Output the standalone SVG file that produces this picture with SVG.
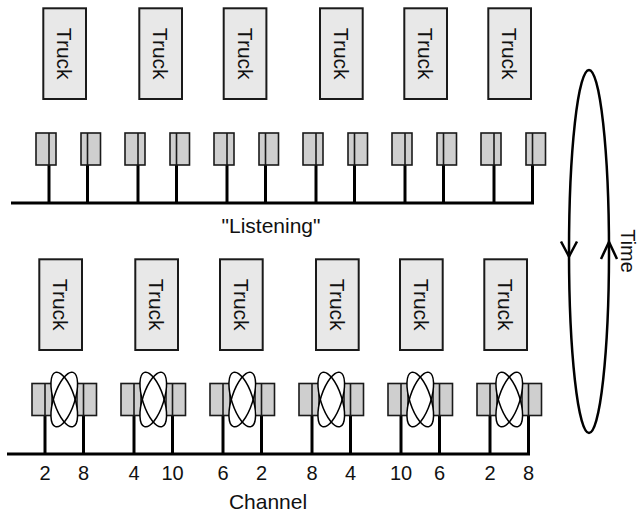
<svg xmlns="http://www.w3.org/2000/svg" width="642" height="512" viewBox="0 0 642 512">
<style>
.truck rect{fill:#e8e8e8;stroke:#1a1a1a;stroke-width:2}
.truck text{font-family:"Liberation Sans",Arial,sans-serif;font-size:21px;fill:#111;text-anchor:middle;dominant-baseline:central}
.ant rect{fill:#cfcfcf;stroke:#1a1a1a;stroke-width:1.6}
.ant line.div{stroke:#1a1a1a;stroke-width:1.6}
.pole{stroke:#000;stroke-width:3}
.bus{stroke:#000;stroke-width:3}
.loopfill{fill:#fff;stroke:none}
.loop{fill:none;stroke:#000;stroke-width:1.5}
.lbl{font-family:"Liberation Sans",Arial,sans-serif;font-size:20px;fill:#111;text-anchor:middle}
.cap{font-family:"Liberation Sans",Arial,sans-serif;font-size:21px;fill:#111;text-anchor:middle}
.cyc{fill:none;stroke:#000;stroke-width:2.5}
</style>
<defs>
<g id="loopshape">
<ellipse class="loopfill" cx="0" cy="0" rx="10.5" ry="28.5" transform="rotate(18)"/>
<ellipse class="loopfill" cx="0" cy="0" rx="10.5" ry="28.5" transform="rotate(-18)"/>
<ellipse class="loop" cx="0" cy="0" rx="10.5" ry="28.5" transform="rotate(18)"/>
<ellipse class="loop" cx="0" cy="0" rx="10.5" ry="28.5" transform="rotate(-18)"/>
</g>
</defs>

<!-- Top row trucks -->
<g id="truck-t1" class="truck"><rect x="43.3" y="8.3" width="42.7" height="90.7"/><text transform="translate(64.7,53.7) rotate(90)">Truck</text></g>
<g id="truck-t2" class="truck"><rect x="139.3" y="8.3" width="42.7" height="90.7"/><text transform="translate(160.7,53.7) rotate(90)">Truck</text></g>
<g id="truck-t3" class="truck"><rect x="223.7" y="8.3" width="42.7" height="90.7"/><text transform="translate(245,53.7) rotate(90)">Truck</text></g>
<g id="truck-t4" class="truck"><rect x="320" y="8.3" width="42.7" height="90.7"/><text transform="translate(341.4,53.7) rotate(90)">Truck</text></g>
<g id="truck-t5" class="truck"><rect x="404.3" y="8.3" width="42.7" height="90.7"/><text transform="translate(425.7,53.7) rotate(90)">Truck</text></g>
<g id="truck-t6" class="truck"><rect x="488.3" y="8.3" width="42.7" height="90.7"/><text transform="translate(509.7,53.7) rotate(90)">Truck</text></g>

<!-- Bottom row trucks -->
<g id="truck-b1" class="truck"><rect x="39.3" y="259.3" width="42.7" height="90.7"/><text transform="translate(60.7,304.7) rotate(90)">Truck</text></g>
<g id="truck-b2" class="truck"><rect x="135.3" y="259.3" width="42.7" height="90.7"/><text transform="translate(156.7,304.7) rotate(90)">Truck</text></g>
<g id="truck-b3" class="truck"><rect x="220" y="259.3" width="42.7" height="90.7"/><text transform="translate(241.4,304.7) rotate(90)">Truck</text></g>
<g id="truck-b4" class="truck"><rect x="316" y="259.3" width="42.7" height="90.7"/><text transform="translate(337.4,304.7) rotate(90)">Truck</text></g>
<g id="truck-b5" class="truck"><rect x="400" y="259.3" width="42.7" height="90.7"/><text transform="translate(421.4,304.7) rotate(90)">Truck</text></g>
<g id="truck-b6" class="truck"><rect x="484.3" y="259.3" width="42.7" height="90.7"/><text transform="translate(505.7,304.7) rotate(90)">Truck</text></g>

<!-- Connectors: buses and poles -->
<g id="connectors">
<line class="bus" x1="11" y1="203" x2="534" y2="203"/>
<line class="pole" x1="49" y1="165" x2="49" y2="203"/><line class="pole" x1="87.5" y1="165" x2="87.5" y2="203"/>
<line class="pole" x1="138" y1="165" x2="138" y2="203"/><line class="pole" x1="176.5" y1="165" x2="176.5" y2="203"/>
<line class="pole" x1="227" y1="165" x2="227" y2="203"/><line class="pole" x1="265.5" y1="165" x2="265.5" y2="203"/>
<line class="pole" x1="316" y1="165" x2="316" y2="203"/><line class="pole" x1="354.5" y1="165" x2="354.5" y2="203"/>
<line class="pole" x1="405" y1="165" x2="405" y2="203"/><line class="pole" x1="443.5" y1="165" x2="443.5" y2="203"/>
<line class="pole" x1="494" y1="165" x2="494" y2="203"/><line class="pole" x1="532.5" y1="165" x2="532.5" y2="203"/>

<line class="bus" x1="7" y1="454" x2="530" y2="454"/>
<line class="pole" x1="45" y1="415.5" x2="45" y2="454"/><line class="pole" x1="83.5" y1="415.5" x2="83.5" y2="454"/>
<line class="pole" x1="134" y1="415.5" x2="134" y2="454"/><line class="pole" x1="172.5" y1="415.5" x2="172.5" y2="454"/>
<line class="pole" x1="223" y1="415.5" x2="223" y2="454"/><line class="pole" x1="261.5" y1="415.5" x2="261.5" y2="454"/>
<line class="pole" x1="312" y1="415.5" x2="312" y2="454"/><line class="pole" x1="350.5" y1="415.5" x2="350.5" y2="454"/>
<line class="pole" x1="401" y1="415.5" x2="401" y2="454"/><line class="pole" x1="439.5" y1="415.5" x2="439.5" y2="454"/>
<line class="pole" x1="490" y1="415.5" x2="490" y2="454"/><line class="pole" x1="528.5" y1="415.5" x2="528.5" y2="454"/>
</g>

<!-- Top antennas -->
<g id="ant-top" class="ant">
<rect x="36" y="133" width="20" height="32"/><line class="div" x1="49" y1="133" x2="49" y2="165"/>
<rect x="81" y="133" width="19.5" height="32"/><line class="div" x1="87.5" y1="133" x2="87.5" y2="165"/>
<rect x="125" y="133" width="20" height="32"/><line class="div" x1="138" y1="133" x2="138" y2="165"/>
<rect x="170" y="133" width="19.5" height="32"/><line class="div" x1="176.5" y1="133" x2="176.5" y2="165"/>
<rect x="214" y="133" width="20" height="32"/><line class="div" x1="227" y1="133" x2="227" y2="165"/>
<rect x="259" y="133" width="19.5" height="32"/><line class="div" x1="265.5" y1="133" x2="265.5" y2="165"/>
<rect x="303" y="133" width="20" height="32"/><line class="div" x1="316" y1="133" x2="316" y2="165"/>
<rect x="348" y="133" width="19.5" height="32"/><line class="div" x1="354.5" y1="133" x2="354.5" y2="165"/>
<rect x="392" y="133" width="20" height="32"/><line class="div" x1="405" y1="133" x2="405" y2="165"/>
<rect x="437" y="133" width="19.5" height="32"/><line class="div" x1="443.5" y1="133" x2="443.5" y2="165"/>
<rect x="481" y="133" width="20" height="32"/><line class="div" x1="494" y1="133" x2="494" y2="165"/>
<rect x="526" y="133" width="19.5" height="32"/><line class="div" x1="532.5" y1="133" x2="532.5" y2="165"/>
</g>

<!-- Bottom antennas -->
<g id="ant-bottom" class="ant">
<rect x="32" y="383.5" width="20" height="32"/><line class="div" x1="45" y1="383.5" x2="45" y2="415.5"/>
<rect x="77" y="383.5" width="19.5" height="32"/><line class="div" x1="83.5" y1="383.5" x2="83.5" y2="415.5"/>
<rect x="121" y="383.5" width="20" height="32"/><line class="div" x1="134" y1="383.5" x2="134" y2="415.5"/>
<rect x="166" y="383.5" width="19.5" height="32"/><line class="div" x1="172.5" y1="383.5" x2="172.5" y2="415.5"/>
<rect x="210" y="383.5" width="20" height="32"/><line class="div" x1="223" y1="383.5" x2="223" y2="415.5"/>
<rect x="255" y="383.5" width="19.5" height="32"/><line class="div" x1="261.5" y1="383.5" x2="261.5" y2="415.5"/>
<rect x="299" y="383.5" width="20" height="32"/><line class="div" x1="312" y1="383.5" x2="312" y2="415.5"/>
<rect x="344" y="383.5" width="19.5" height="32"/><line class="div" x1="350.5" y1="383.5" x2="350.5" y2="415.5"/>
<rect x="388" y="383.5" width="20" height="32"/><line class="div" x1="401" y1="383.5" x2="401" y2="415.5"/>
<rect x="433" y="383.5" width="19.5" height="32"/><line class="div" x1="439.5" y1="383.5" x2="439.5" y2="415.5"/>
<rect x="477" y="383.5" width="20" height="32"/><line class="div" x1="490" y1="383.5" x2="490" y2="415.5"/>
<rect x="522" y="383.5" width="19.5" height="32"/><line class="div" x1="528.5" y1="383.5" x2="528.5" y2="415.5"/>
</g>

<!-- Crossed loops between paired antennas -->
<g id="loops">
<use id="loop-1" href="#loopshape" transform="translate(64.25,399.5)"/>
<use id="loop-2" href="#loopshape" transform="translate(153.25,399.5)"/>
<use id="loop-3" href="#loopshape" transform="translate(242.25,399.5)"/>
<use id="loop-4" href="#loopshape" transform="translate(331.25,399.5)"/>
<use id="loop-5" href="#loopshape" transform="translate(420.25,399.5)"/>
<use id="loop-6" href="#loopshape" transform="translate(509.25,399.5)"/>
</g>

<!-- Labels -->
<text class="cap" x="271" y="233">"Listening"</text>
<g id="channel-labels">
<text class="lbl" x="45" y="480">2</text><text class="lbl" x="83.5" y="480">8</text>
<text class="lbl" x="134" y="480">4</text><text class="lbl" x="172.5" y="480">10</text>
<text class="lbl" x="223" y="480">6</text><text class="lbl" x="261.5" y="480">2</text>
<text class="lbl" x="312" y="480">8</text><text class="lbl" x="350.5" y="480">4</text>
<text class="lbl" x="401" y="480">10</text><text class="lbl" x="439.5" y="480">6</text>
<text class="lbl" x="490" y="480">2</text><text class="lbl" x="528.5" y="480">8</text>
</g>
<text class="cap" x="268" y="509">Channel</text>

<!-- Time cycle -->
<g id="time-cycle">
<ellipse class="cyc" cx="589" cy="251.5" rx="20" ry="181.5"/>
<polyline class="cyc" points="561,241.5 569,256.5 577,241.5"/>
<polyline class="cyc" points="601,259 609,242 617,259"/>
<text transform="translate(621,251) rotate(90)" style="font-family:'Liberation Sans',Arial,sans-serif;font-size:20px;fill:#111;text-anchor:middle">Time</text>
</g>
</svg>
